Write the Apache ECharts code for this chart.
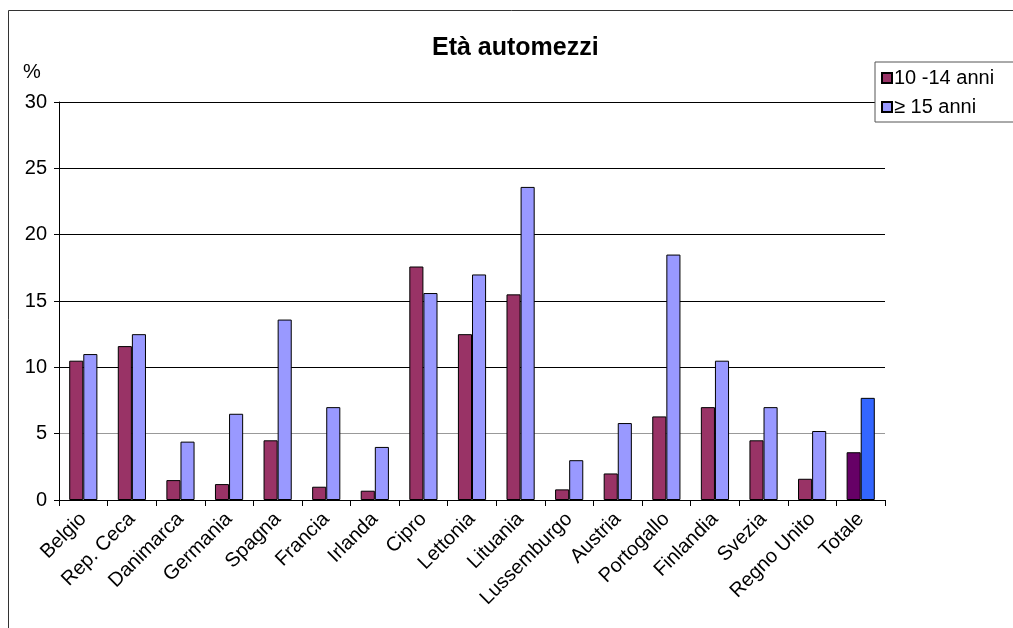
<!DOCTYPE html>
<html>
<head>
<meta charset="utf-8">
<script src="https://cdn.jsdelivr.net/npm/echarts@6/dist/echarts.min.js"></script>
<style>
  html, body { margin: 0; padding: 0; background: #fff; }
  #chart { width: 1013px; height: 628px; }
</style>
</head>
<body>
<div id="chart"></div>
<script>
const paesi = ["Belgio", "Rep. Ceca", "Danimarca", "Germania", "Spagna", "Francia", "Irlanda", "Cipro",
  "Lettonia", "Lituania", "Lussemburgo", "Austria", "Portogallo", "Finlandia", "Svezia", "Regno Unito", "Totale"];
const anni10_14 = [10.5, 11.6, 1.5, 1.2, 4.5, 1.0, 0.7, 17.6, 12.5, 15.5, 0.8, 2.0, 6.3, 7.0, 4.5, 1.6, 3.6];
const anni15 = [11.0, 12.5, 4.4, 6.5, 13.6, 7.0, 4.0, 15.6, 17.0, 23.6, 3.0, 5.8, 18.5, 10.5, 7.0, 5.2, 7.7];
const yTicks = [0, 5, 10, 15, 20, 25, 30];

const font = "Liberation Sans, Arial, sans-serif";
const last = paesi.length - 1;

// the "Totale" bars are drawn in darker colours
function withTotale(values, color) {
  return values.map((v, i) => i === last ? { value: v, itemStyle: { color: color } } : v);
}

const chart = echarts.init(document.getElementById("chart"));
chart.setOption({
  animation: false,
  textStyle: { fontFamily: font },
  title: {
    text: "Età automezzi",
    left: 427,
    top: 31,
    textStyle: { fontFamily: font, fontSize: 25, fontWeight: "bold", color: "#000" }
  },
  graphic: [
    { type: "rect", shape: { x: 8.5, y: 10.5, width: 1200, height: 800 },
      style: { fill: "none", stroke: "#333", lineWidth: 1 }, silent: true },
    { type: "text", left: 23, top: 62,
      style: { text: "%", font: "20px " + font, fill: "#000" } }
  ],
  legend: {
    orient: "vertical",
    left: 875,
    top: 62,
    padding: [6, 40, 5, 6],
    itemGap: 9,
    itemWidth: 10,
    itemHeight: 10,
    backgroundColor: "#fff",
    borderColor: "#555",
    borderWidth: 1,
    icon: "rect",
    textStyle: { fontFamily: font, fontSize: 20, color: "#000", padding: [0, 0, 0, -3] },
    data: ["10 -14 anni", "≥ 15 anni"]
  },
  grid: { left: 59, right: 128, top: 102, bottom: 128 },
  xAxis: {
    type: "category",
    data: paesi,
    axisLine: { lineStyle: { color: "#000", width: 1 } },
    axisTick: { show: true, length: 6, lineStyle: { color: "#000" } },
    axisLabel: { interval: 0, rotate: 45, fontSize: 20, color: "#000", margin: 16, fontFamily: font }
  },
  yAxis: {
    type: "value",
    min: yTicks[0],
    max: yTicks[yTicks.length - 1],
    interval: 5,
    axisLine: { show: true, lineStyle: { color: "#000" } },
    axisTick: { show: true, length: 5, lineStyle: { color: "#000" } },
    axisLabel: { fontSize: 20, color: "#000", margin: 12, fontFamily: font },
    splitLine: { lineStyle: { color: ["#000", "#999", "#000", "#000", "#000", "#000", "#000"], width: 1 } }
  },
  series: [
    {
      name: "10 -14 anni",
      type: "bar",
      data: withTotale(anni10_14, "#660066"),
      barGap: "0%",
      barCategoryGap: "42%",
      itemStyle: { color: "#993366", borderColor: "#000", borderWidth: 1 }
    },
    {
      name: "≥ 15 anni",
      type: "bar",
      data: withTotale(anni15, "#3366ff"),
      itemStyle: { color: "#9999ff", borderColor: "#000", borderWidth: 1 }
    }
  ]
});
</script>
</body>
</html>
